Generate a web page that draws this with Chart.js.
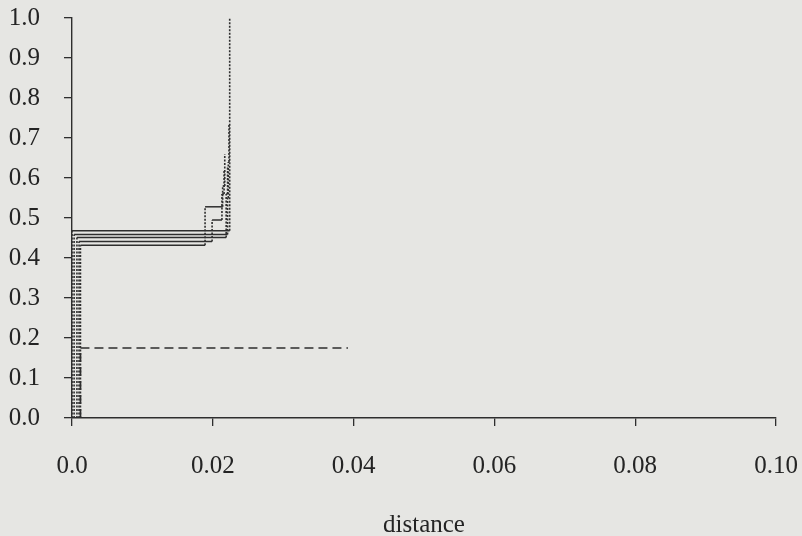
<!DOCTYPE html>
<html>
<head>
<meta charset="utf-8">
<script src="https://cdn.jsdelivr.net/npm/chart.js@4/dist/chart.umd.min.js"></script>
<style>
  html, body { margin: 0; padding: 0; background: #e6e6e3; }
  #wrap { width: 802px; height: 536px; position: relative; }
</style>
</head>
<body>
<div id="wrap"><canvas id="c" width="802" height="536"></canvas></div>
<script>
// ---- data ----
const xTickVals = [0, 0.02, 0.04, 0.06, 0.08, 0.10];
const xTickLabels = ['0.0', '0.02', '0.04', '0.06', '0.08', '0.10'];
const yTickVals = [0, 0.1, 0.2, 0.3, 0.4, 0.5, 0.6, 0.7, 0.8, 0.9, 1.0];
const yTickLabels = ['0.0', '0.1', '0.2', '0.3', '0.4', '0.5', '0.6', '0.7', '0.8', '0.9', '1.0'];

// simulated step curves: jump distances and the level after each jump
const sim1X = [0.0000, 0.0224];
const sim1Y = [0.468, 1.000];
const sim2X = [0.0003, 0.0221, 0.0222, 0.0223];
const sim2Y = [0.459, 0.550, 0.640, 0.735];
const sim3X = [0.0007, 0.0219, 0.0221];
const sim3Y = [0.451, 0.560, 0.630];
const sim4X = [0.0010, 0.0199, 0.0213, 0.0216];
const sim4Y = [0.441, 0.495, 0.560, 0.620];
const sim5X = [0.0012, 0.0189, 0.0214, 0.0217];
const sim5Y = [0.432, 0.528, 0.580, 0.660];

// observed curve (dashed)
const obsX = [0.0012];
const obsY = [0.175];
const obsEnd = 0.0392;

// ---- build step points from the arrays ----
function steps(xs, ys, endX) {
  const pts = [];
  let prev = 0;
  for (let i = 0; i < xs.length; i++) {
    pts.push({ x: xs[i], y: prev });
    pts.push({ x: xs[i], y: ys[i] });
    prev = ys[i];
  }
  if (endX !== undefined) pts.push({ x: endX, y: prev });
  return pts;
}

const ink = '#2e2e2e';
function simSet(xs, ys) {
  return {
    data: steps(xs, ys),
    borderColor: ink,
    borderWidth: 1.5,
    pointRadius: 0,
    fill: false,
    tension: 0,
    segment: {
      borderDash: ctx => (ctx.p0.parsed.x === ctx.p1.parsed.x ? [2, 1.5] : undefined),
      borderWidth: ctx => (ctx.p0.parsed.x === ctx.p1.parsed.x ? 1.6 : 1.5)
    }
  };
}

const datasets = [
  simSet(sim1X, sim1Y),
  simSet(sim2X, sim2Y),
  simSet(sim3X, sim3Y),
  simSet(sim4X, sim4Y),
  simSet(sim5X, sim5Y),
  {
    data: steps(obsX, obsY, obsEnd),
    borderColor: ink,
    borderWidth: 1.7,
    borderDash: [9, 5],
    pointRadius: 0,
    fill: false,
    tension: 0
  }
];

const fontSpec = { family: '"Liberation Serif", "DejaVu Serif", serif', size: 25 };
const textInk = '#242424';

function noPad(s) { s.paddingTop = 0; s.paddingBottom = 0; s.paddingLeft = 0; s.paddingRight = 0; }

new Chart(document.getElementById('c'), {
  type: 'line',
  data: { datasets },
  options: {
    responsive: false,
    animation: false,
    events: [],
    layout: { padding: { top: 18, right: 26, left: 0, bottom: 0 } },
    plugins: { legend: { display: false }, tooltip: { enabled: false } },
    scales: {
      x: {
        type: 'linear',
        min: 0, max: 0.1,
        afterBuildTicks: s => { s.ticks = xTickVals.map(v => ({ value: v })); },
        afterFit: s => { s.height = 118; noPad(s); },
        ticks: {
          color: textInk,
          font: fontSpec,
          padding: 25,
          maxRotation: 0,
          autoSkip: false,
          callback: (v, i) => xTickLabels[i]
        },
        grid: { drawOnChartArea: false, drawTicks: true, tickLength: 8, color: ink, lineWidth: 1.3 },
        border: { display: true, color: ink, width: 1.4 },
        title: { display: true, text: 'distance', color: textInk, font: fontSpec, padding: { top: 0, bottom: -4 } }
      },
      y: {
        type: 'linear',
        min: 0, max: 1,
        afterBuildTicks: s => { s.ticks = yTickVals.map(v => ({ value: v })); },
        afterFit: s => { s.width = 72; noPad(s); },
        ticks: {
          color: textInk,
          font: fontSpec,
          padding: 24,
          autoSkip: false,
          callback: (v, i) => yTickLabels[i]
        },
        grid: { drawOnChartArea: false, drawTicks: true, tickLength: 8, color: ink, lineWidth: 1.3 },
        border: { display: true, color: ink, width: 1.4 }
      }
    }
  }
});
</script>
</body>
</html>
